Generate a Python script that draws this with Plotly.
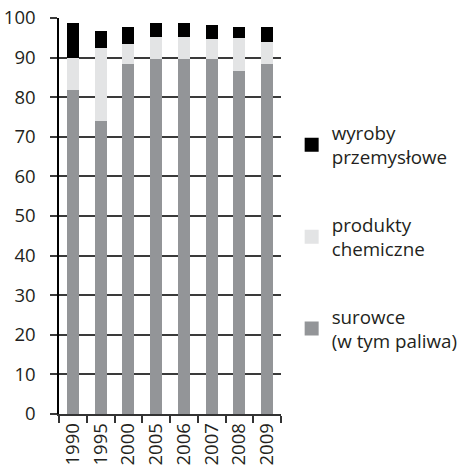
import plotly.graph_objects as go

years = ["1990", "1995", "2000", "2005", "2006", "2007", "2008", "2009"]
surowce = [82.1, 74.3, 88.7, 90.0, 90.0, 90.0, 86.9, 88.7]
chemiczne = [8.0, 18.4, 5.0, 5.5, 5.5, 5.0, 8.3, 5.5]
wyroby = [8.4, 3.8, 3.8, 3.0, 3.0, 3.0, 2.3, 3.3]

names = ["surowce<br>(w tym paliwa)", "produkty<br>chemiczne", "wyroby<br>przemysłowe"]
colors = ["#939598", "#e3e4e5", "#000000"]
series = [surowce, chemiczne, wyroby]
ranks = [3, 2, 1]

fig = go.Figure()
for i, (nm, col, vals) in enumerate(zip(names, colors, series)):
    fig.add_trace(go.Bar(x=years, y=vals, name=nm, marker_color=col,
                         marker_line_width=2, marker_line_color=col,
                         legendgroup=str(i), legendrank=ranks[i]))

fnt = dict(family="Open Sans", size=18.5, color="#231f20")
fig.update_layout(
    width=520, height=474,
    margin=dict(l=59, r=239, t=18, b=60),
    barmode="stack", bargap=0.64,
    plot_bgcolor="white", paper_bgcolor="white",
    font=fnt,
    showlegend=True,
    legend=dict(x=1.048, xanchor="left", y=0.758, yanchor="top",
                traceorder="grouped", tracegroupgap=40,
                font=dict(family="Open Sans", size=18.8, color="#231f20")),
    xaxis=dict(type="category", tickangle=-90, showgrid=False, automargin=False,
               showline=True, linecolor="#333333", linewidth=1.5,
               ticks="outside", tickson="boundaries", ticklen=7,
               tickcolor="#333333", tickwidth=1.5),
    yaxis=dict(range=[0, 100], dtick=10, showgrid=True, gridcolor="#3a3a3a",
               gridwidth=1.5, showline=True, linecolor="#000000", linewidth=1.5,
               ticks="outside", ticklen=7, tickcolor="#3a3a3a", tickwidth=1.5,
               ticklabelstandoff=11, zeroline=False, automargin=False),
)
fig.write_html("out.html", config={"displayModeBar": False},
               post_script="document.body.style.margin='0';")
